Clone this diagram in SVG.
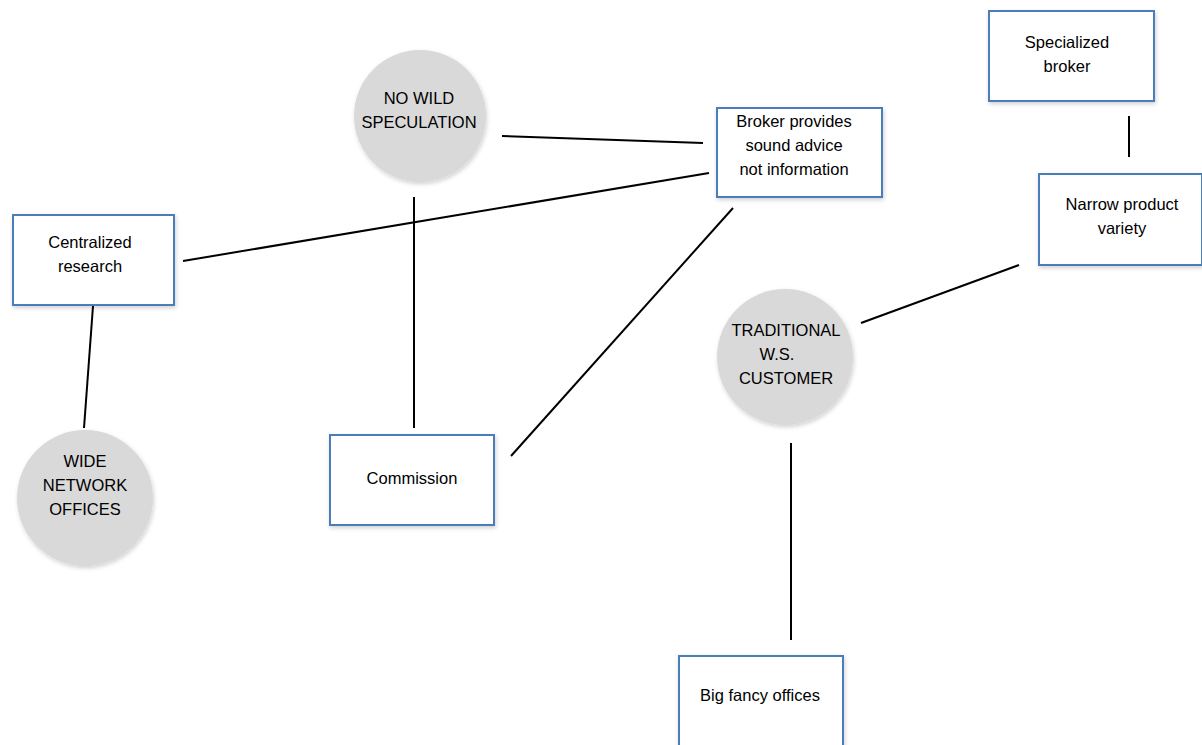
<svg xmlns="http://www.w3.org/2000/svg" width="1202" height="745" viewBox="0 0 1202 745">
<defs>
<filter id="sh" x="-20%" y="-20%" width="140%" height="140%">
<feDropShadow dx="1" dy="2" stdDeviation="2" flood-color="#000" flood-opacity="0.18"/>
</filter>
</defs>
<style>
.box{fill:#fff;stroke:#4a7ebb;stroke-width:2;filter:url(#sh)}
.circ{fill:#d9d9d9;stroke:none;filter:url(#sh)}
.lbl{font-family:"Liberation Sans",Arial,sans-serif;font-size:16.5px;fill:#000;text-anchor:middle}
.con{stroke:#000;stroke-width:2;fill:none}
</style>
<rect width="1202" height="745" fill="#fff"/>
<g id="connectors">
<line class="con" x1="502" y1="136" x2="703" y2="143"/>
<line class="con" x1="183" y1="261" x2="709" y2="173"/>
<line class="con" x1="414" y1="197" x2="414" y2="428"/>
<line class="con" x1="733" y1="208" x2="511" y2="456"/>
<line class="con" x1="93" y1="306" x2="84" y2="428"/>
<line class="con" x1="1129" y1="116" x2="1129" y2="157"/>
<line class="con" x1="1019" y1="265" x2="861" y2="323"/>
<line class="con" x1="791" y1="443" x2="791" y2="640"/>
</g>
<g id="no-wild-speculation">
<circle class="circ" cx="420" cy="116" r="66"/>
<text class="lbl" x="419" y="104">NO WILD</text>
<text class="lbl" x="419" y="128">SPECULATION</text>
</g>
<g id="broker-provides">
<rect class="box" x="717" y="108" width="165" height="89"/>
<text class="lbl" x="794" y="127">Broker provides</text>
<text class="lbl" x="794" y="151">sound advice</text>
<text class="lbl" x="794" y="175">not information</text>
</g>
<g id="centralized-research">
<rect class="box" x="13" y="215" width="161" height="90"/>
<text class="lbl" x="90" y="248">Centralized</text>
<text class="lbl" x="90" y="272">research</text>
</g>
<g id="wide-network-offices">
<circle class="circ" cx="85" cy="498" r="68"/>
<text class="lbl" x="85" y="467">WIDE</text>
<text class="lbl" x="85" y="491">NETWORK</text>
<text class="lbl" x="85" y="515">OFFICES</text>
</g>
<g id="commission">
<rect class="box" x="330" y="435" width="164" height="90"/>
<text class="lbl" x="412" y="484">Commission</text>
</g>
<g id="traditional-ws-customer">
<circle class="circ" cx="785" cy="357" r="68"/>
<text class="lbl" x="786" y="336">TRADITIONAL</text>
<text class="lbl" x="777" y="360">W.S.</text>
<text class="lbl" x="786" y="384">CUSTOMER</text>
</g>
<g id="specialized-broker">
<rect class="box" x="989" y="11" width="165" height="90"/>
<text class="lbl" x="1067" y="48">Specialized</text>
<text class="lbl" x="1067" y="72">broker</text>
</g>
<g id="narrow-product-variety">
<rect class="box" x="1039" y="174" width="163" height="91"/>
<text class="lbl" x="1122" y="210">Narrow product</text>
<text class="lbl" x="1122" y="234">variety</text>
</g>
<g id="big-fancy-offices">
<rect class="box" x="679" y="656" width="164" height="100"/>
<text class="lbl" x="760" y="701">Big fancy offices</text>
</g>
</svg>
